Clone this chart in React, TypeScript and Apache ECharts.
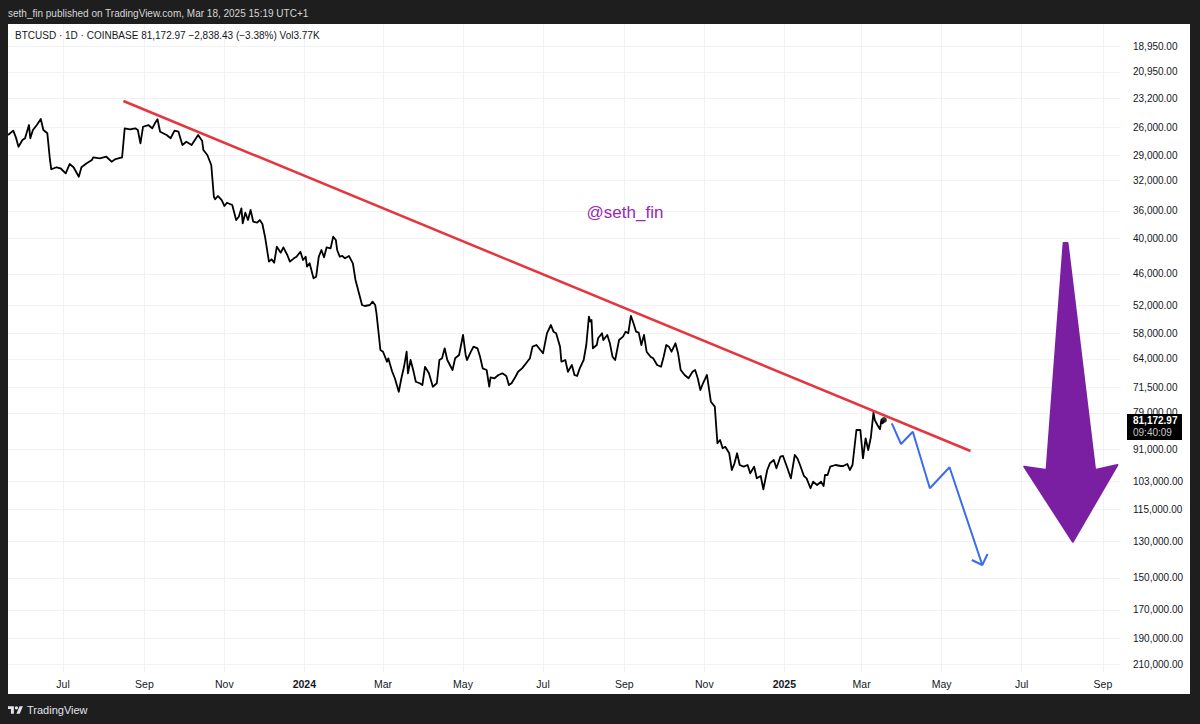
import React, { useEffect, useRef } from "react";
import * as echarts from "echarts";

// ---- price history (daily closes) ----
const DATES = [
  "2023-05-20","2023-05-24","2023-05-26","2023-05-28","2023-05-31","2023-06-02","2023-06-05","2023-06-06","2023-06-08","2023-06-11",
  "2023-06-14","2023-06-16","2023-06-19","2023-06-21","2023-06-22","2023-06-26","2023-06-29","2023-07-03","2023-07-06","2023-07-09",
  "2023-07-13","2023-07-15","2023-07-19","2023-07-23","2023-07-24","2023-07-29","2023-08-03","2023-08-07","2023-08-10","2023-08-15",
  "2023-08-17","2023-08-21","2023-08-25","2023-08-27","2023-08-29","2023-08-31","2023-09-04","2023-09-07","2023-09-09","2023-09-11",
  "2023-09-13","2023-09-18","2023-09-21","2023-09-24","2023-09-27","2023-09-30","2023-10-03","2023-10-07","2023-10-12","2023-10-15",
  "2023-10-16","2023-10-19","2023-10-22","2023-10-24","2023-10-25","2023-10-27","2023-10-30","2023-11-01","2023-11-03","2023-11-07",
  "2023-11-10","2023-11-12","2023-11-14","2023-11-15","2023-11-17","2023-11-19","2023-11-21","2023-11-23","2023-11-26","2023-11-28",
  "2023-11-30","2023-12-02","2023-12-05","2023-12-07","2023-12-09","2023-12-11","2023-12-14","2023-12-16","2023-12-19","2023-12-21",
  "2023-12-24","2023-12-26","2023-12-29","2023-12-31","2024-01-02","2024-01-03","2024-01-05","2024-01-06","2024-01-08","2024-01-10",
  "2024-01-12","2024-01-14","2024-01-16","2024-01-18","2024-01-21","2024-01-23","2024-01-25","2024-01-26","2024-01-28","2024-01-30",
  "2024-02-01","2024-02-04","2024-02-07","2024-02-09","2024-02-10","2024-02-12","2024-02-14","2024-02-16","2024-02-20","2024-02-22",
  "2024-02-24","2024-02-25","2024-02-28","2024-03-01","2024-03-04","2024-03-05","2024-03-08","2024-03-10","2024-03-13","2024-03-15",
  "2024-03-17","2024-03-19","2024-03-20","2024-03-22","2024-03-24","2024-03-26","2024-03-29","2024-03-31","2024-04-02","2024-04-05",
  "2024-04-08","2024-04-11","2024-04-13","2024-04-15","2024-04-17","2024-04-19","2024-04-23","2024-04-25","2024-04-28","2024-05-01",
  "2024-05-03","2024-05-04","2024-05-07","2024-05-09","2024-05-12","2024-05-14","2024-05-16","2024-05-19","2024-05-21","2024-05-22",
  "2024-05-25","2024-05-28","2024-05-31","2024-06-03","2024-06-05","2024-06-07","2024-06-10","2024-06-12","2024-06-15","2024-06-19",
  "2024-06-21","2024-06-23","2024-06-26","2024-06-29","2024-07-01","2024-07-04","2024-07-07","2024-07-09","2024-07-11","2024-07-14",
  "2024-07-15","2024-07-18","2024-07-20","2024-07-23","2024-07-25","2024-07-27","2024-07-29","2024-08-01","2024-08-03","2024-08-05",
  "2024-08-06","2024-08-07","2024-08-08","2024-08-11","2024-08-12","2024-08-15","2024-08-16","2024-08-19","2024-08-21","2024-08-23",
  "2024-08-25","2024-08-28","2024-08-31","2024-09-02","2024-09-04","2024-09-06","2024-09-08","2024-09-10","2024-09-12","2024-09-14",
  "2024-09-16","2024-09-18","2024-09-21","2024-09-23","2024-09-26","2024-09-29","2024-10-01","2024-10-03","2024-10-05","2024-10-07",
  "2024-10-10","2024-10-12","2024-10-14","2024-10-17","2024-10-20","2024-10-23","2024-10-25","2024-10-27","2024-10-29","2024-10-31",
  "2024-11-03","2024-11-06","2024-11-09","2024-11-11","2024-11-13","2024-11-15","2024-11-17","2024-11-20","2024-11-22","2024-11-24",
  "2024-11-26","2024-11-28","2024-12-01","2024-12-04","2024-12-06","2024-12-09","2024-12-11","2024-12-14","2024-12-16","2024-12-19",
  "2024-12-21","2024-12-24","2024-12-26","2024-12-29","2024-12-31","2025-01-03","2025-01-06","2025-01-09","2025-01-11","2025-01-13",
  "2025-01-16","2025-01-18","2025-01-21","2025-01-23","2025-01-26","2025-01-29","2025-01-31","2025-02-01","2025-02-03","2025-02-05",
  "2025-02-09","2025-02-13","2025-02-15","2025-02-18","2025-02-20","2025-02-22","2025-02-25","2025-02-28","2025-03-02","2025-03-04",
  "2025-03-06","2025-03-08","2025-03-10","2025-03-11","2025-03-13","2025-03-15","2025-03-16","2025-03-17","2025-03-18",
];

const CLOSES = [
  26790,26340,27030,28040,27310,27130,25770,27130,26270,25770,
  25170,26270,26610,29520,30610,30370,30490,31090,29990,30370,
  31510,30370,29910,29520,29220,29330,29150,29720,29410,29220,
  26100,26200,26100,26270,27670,25940,25770,26100,25600,25200,
  26450,26790,27130,26340,26450,27850,27500,27850,26790,27390,
  28400,28960,30100,34060,34400,33960,34500,35310,34860,35170,
  37290,36810,35630,37770,36240,37290,35860,37530,37680,37290,
  37870,39790,43850,43450,44020,41370,42340,41470,42730,43850,
  43280,43010,42180,43560,43010,44710,44130,45000,46780,46490,
  43010,41900,43110,41470,41630,39790,40300,41900,43010,42890,
  43280,42890,44130,47090,48010,49920,51900,52100,51900,51230,
  51900,53600,61830,62240,64710,63860,67290,69020,72720,69020,
  66000,62240,67700,64280,66830,69950,70370,70850,66000,67700,
  71320,70370,64280,63860,61420,64280,66830,63860,63040,58320,
  63040,64280,62240,61030,61420,63460,66400,66830,71320,68760,
  69020,68140,67700,68400,70850,70370,68600,67290,66400,64710,
  63860,61030,60640,61830,62630,57940,56100,57580,57940,61030,
  64710,64280,67290,65540,68140,68400,66400,64280,60640,54280,
  55370,55020,61420,60640,59070,57940,59470,58320,60240,63460,
  64280,59470,58700,57580,57940,54130,55730,57580,57800,60640,
  58320,62240,63460,63860,65540,65990,63460,60640,61030,62240,
  60240,62630,66830,68140,69020,67290,66830,69020,72240,70370,
  68140,75600,77080,88880,87750,90630,90070,92400,98610,96080,
  92400,96710,97350,96710,99890,97350,101850,100940,106300,98610,
  96080,94850,97970,93640,93380,97350,101850,93020,94240,96710,
  100940,101850,105880,103200,104540,103200,104950,100550,100550,97350,
  96710,97090,97090,96330,98610,96710,84400,84400,94240,87170,
  91230,86830,78900,81180,82780,84170,81180,82230,81172.97,
];

// ---- drawings ----
const TREND_DATES = ["2023-08-16", "2025-05-23"];
const TREND_PRICES = [23470, 91590];

const PROJ_DATES = ["2025-03-24", "2025-03-31", "2025-04-09", "2025-04-22", "2025-05-07", "2025-06-01"];
const PROJ_PRICES = [82230, 89130, 84960, 105880, 97580, 142700];

const HEAD_DATES = ["2025-05-24", "2025-06-01", "2025-06-05"];
const HEAD_PRICES = [139950, 142700, 136720];

const ARROW_DATES = ["2025-08-02", "2025-08-05", "2025-08-26", "2025-09-12", "2025-08-09", "2025-07-03", "2025-07-20"];
const ARROW_PRICES = [40780, 40780, 98610, 96710, 130330, 97350, 98610];

// ---- axes ----
const PRICE_TICKS = [
  18950, 20950, 23200, 26000, 29000, 32000, 36000, 40000, 46000, 52000, 58000,
  64000, 71500, 79000, 91000, 103000, 115000, 130000, 150000, 170000, 190000, 210000,
];
const MONTH_TICKS = [
  "2023-07-01", "2023-09-01", "2023-11-01", "2024-01-01", "2024-03-01", "2024-05-01", "2024-07-01",
  "2024-09-01", "2024-11-01", "2025-01-01", "2025-03-01", "2025-05-01", "2025-07-01", "2025-09-01",
];
const X_MIN = "2023-05-20";
const X_MAX = "2025-09-14";
const Y_MIN = 17394;
const Y_MAX = 216380;

const LAST_TIME = "09:40:09";
const HEADER_TOP = "seth_fin published on TradingView.com, Mar 18, 2025 15:19 UTC+1";
const HEADER_SYMBOL = "BTCUSD · 1D · COINBASE 81,172.97 −2,838.43 (−3.38%) Vol3.77K";
const WATERMARK = "@seth_fin";

const MONTHS = ["Jan", "Feb", "Mar", "Apr", "May", "Jun", "Jul", "Aug", "Sep", "Oct", "Nov", "Dec"];
const FONT = '"Liberation Sans", Arial, sans-serif';

const toMs = (s: string) => {
  const [y, m, d] = s.split("-").map(Number);
  return Date.UTC(y, m - 1, d);
};
const lg = (p: number) => Math.log10(p);
const fmtPrice = (p: number) =>
  p.toLocaleString("en-US", { minimumFractionDigits: 2, maximumFractionDigits: 2 });

echarts.graphic.registerShape(
  "tvlogo",
  echarts.graphic.extendPath(
    "M14 22H7V11H0V4h14v18zM28 22h-8l7.5-18h8L28 22zM24 8a4 4 0 1 1-8 0a4 4 0 1 1 8 0z",
    {}
  )
);

const GRID = { left: 8, right: 80, top: 24, bottom: 52 };

export default function App() {
  const ref = useRef<HTMLDivElement>(null);

  useEffect(() => {
    if (!ref.current) return;
    const chart = echarts.init(ref.current, undefined, { renderer: "svg" });

    const priceData = DATES.map((d, i) => [toMs(d), lg(CLOSES[i])]);
    const lastIdx = DATES.length - 1;
    const lastPrice = CLOSES[lastIdx];
    const monthVals = MONTH_TICKS.map(toMs);
    const priceVals = PRICE_TICKS.map(lg);

    const baseGraphic: any[] = [
      {
        type: "rect",
        z: -1,
        silent: true,
        shape: { x: 8, y: 24, width: 1182, height: 670 },
        style: { fill: "#ffffff" },
      },
      {
        type: "text",
        x: 8,
        y: 13,
        silent: true,
        style: { text: HEADER_TOP, fill: "#d6d6d6", fontSize: 10, fontFamily: FONT, verticalAlign: "middle" },
      },
      {
        type: "text",
        x: 15,
        y: 35,
        z: 10,
        silent: true,
        style: { text: HEADER_SYMBOL, fill: "#131722", fontSize: 10, fontFamily: FONT, verticalAlign: "middle" },
      },
      {
        type: "text",
        x: 625,
        y: 212,
        z: 10,
        silent: true,
        style: {
          text: WATERMARK,
          fill: "#9c27b0",
          fontSize: 17,
          fontFamily: FONT,
          align: "center",
          verticalAlign: "middle",
        },
      },
      {
        type: "tvlogo",
        x: 8,
        y: 704.5,
        scaleX: 0.42,
        scaleY: 0.42,
        silent: true,
        style: { fill: "#e0e3eb" },
      },
      {
        type: "text",
        x: 27,
        y: 710,
        silent: true,
        style: { text: "TradingView", fill: "#e0e3eb", fontSize: 11, fontFamily: FONT, verticalAlign: "middle" },
      },
    ];

    const option: any = {
      animation: false,
      backgroundColor: "#1e1e1e",
      grid: { ...GRID, containLabel: false },
      xAxis: {
        type: "value",
        min: toMs(X_MIN),
        max: toMs(X_MAX),
        axisLine: { show: false },
        axisTick: { show: false, customValues: monthVals },
        splitLine: { show: true, lineStyle: { color: "#f0f2f6", width: 1 } },
        axisLabel: {
          customValues: monthVals,
          color: "#131722",
          fontSize: 10.5,
          fontFamily: FONT,
          margin: 6,
          formatter: (v: number) => {
            const dt = new Date(v);
            return dt.getUTCMonth() === 0 ? `{yr|${dt.getUTCFullYear()}}` : MONTHS[dt.getUTCMonth()];
          },
          rich: { yr: { fontWeight: "bold", fontSize: 10.5, color: "#131722", fontFamily: FONT } },
        },
      },
      yAxis: {
        type: "value",
        position: "right",
        inverse: true,
        min: lg(Y_MIN),
        max: lg(Y_MAX),
        axisLine: { show: false },
        axisTick: { show: false, customValues: priceVals },
        splitLine: { show: true, lineStyle: { color: "#f0f2f6", width: 1 } },
        axisLabel: {
          customValues: priceVals,
          color: "#131722",
          fontSize: 10,
          fontFamily: FONT,
          margin: 13,
          formatter: (v: number) => {
            let best = PRICE_TICKS[0];
            for (const p of PRICE_TICKS) if (Math.abs(lg(p) - v) < Math.abs(lg(best) - v)) best = p;
            return fmtPrice(best);
          },
        },
      },
      series: [
        {
          type: "line",
          data: priceData,
          symbol: "none",
          silent: true,
          z: 3,
          lineStyle: { color: "#000000", width: 1.8, join: "round" },
        },
        {
          type: "scatter",
          data: [[toMs(DATES[lastIdx]), lg(lastPrice)]],
          symbol: "circle",
          symbolSize: 6,
          silent: true,
          z: 4,
          itemStyle: { color: "#000000" },
        },
        {
          type: "line",
          data: TREND_DATES.map((d, i) => [toMs(d), lg(TREND_PRICES[i])]),
          symbol: "none",
          silent: true,
          z: 5,
          lineStyle: { color: "#e5363f", width: 2.5 },
        },
        {
          type: "line",
          data: PROJ_DATES.map((d, i) => [toMs(d), lg(PROJ_PRICES[i])]),
          symbol: "none",
          silent: true,
          z: 5,
          lineStyle: { color: "#3b6cf0", width: 2 },
        },
        {
          type: "line",
          data: HEAD_DATES.map((d, i) => [toMs(d), lg(HEAD_PRICES[i])]),
          symbol: "none",
          silent: true,
          z: 5,
          lineStyle: { color: "#3b6cf0", width: 2 },
        },
        {
          type: "custom",
          coordinateSystem: "cartesian2d",
          clip: false,
          silent: true,
          z: 6,
          data: [[toMs(ARROW_DATES[0]), lg(ARROW_PRICES[0])]],
          renderItem: (_params: any, api: any) => {
            const pts = ARROW_DATES.map((d, i) => api.coord([toMs(d), lg(ARROW_PRICES[i])]));
            return {
              type: "polygon",
              shape: { points: pts },
              style: { fill: "#7b1fa2", stroke: "#7b1fa2", lineWidth: 2, lineJoin: "round" },
            };
          },
        },
      ],
      graphic: baseGraphic,
    };

    chart.setOption(option);

    const pt = chart.convertToPixel({ xAxisIndex: 0, yAxisIndex: 0 }, [toMs(DATES[lastIdx]), lg(lastPrice)]) as number[];
    const py = pt && isFinite(pt[1]) ? pt[1] : 420;
    const boxX = 1200 - GRID.right + 7;
    const box = [
      {
        type: "rect",
        z: 20,
        silent: true,
        shape: { x: boxX, y: py - 6, width: 55, height: 26 },
        style: { fill: "#000000" },
      },
      {
        type: "text",
        z: 21,
        x: boxX + 6,
        y: py + 1,
        silent: true,
        style: { text: fmtPrice(lastPrice), fill: "#ffffff", fontSize: 10, fontWeight: "bold", fontFamily: FONT, verticalAlign: "middle" },
      },
      {
        type: "text",
        z: 21,
        x: boxX + 6,
        y: py + 13,
        silent: true,
        style: { text: LAST_TIME, fill: "#c8c8c8", fontSize: 10, fontFamily: FONT, verticalAlign: "middle" },
      },
    ];
    chart.setOption({ graphic: [...baseGraphic, ...box] });

    return () => chart.dispose();
  }, []);

  return (
    <div
      ref={ref}
      style={{ position: "fixed", left: 0, top: 0, width: 1200, height: 724 }}
    />
  );
}
